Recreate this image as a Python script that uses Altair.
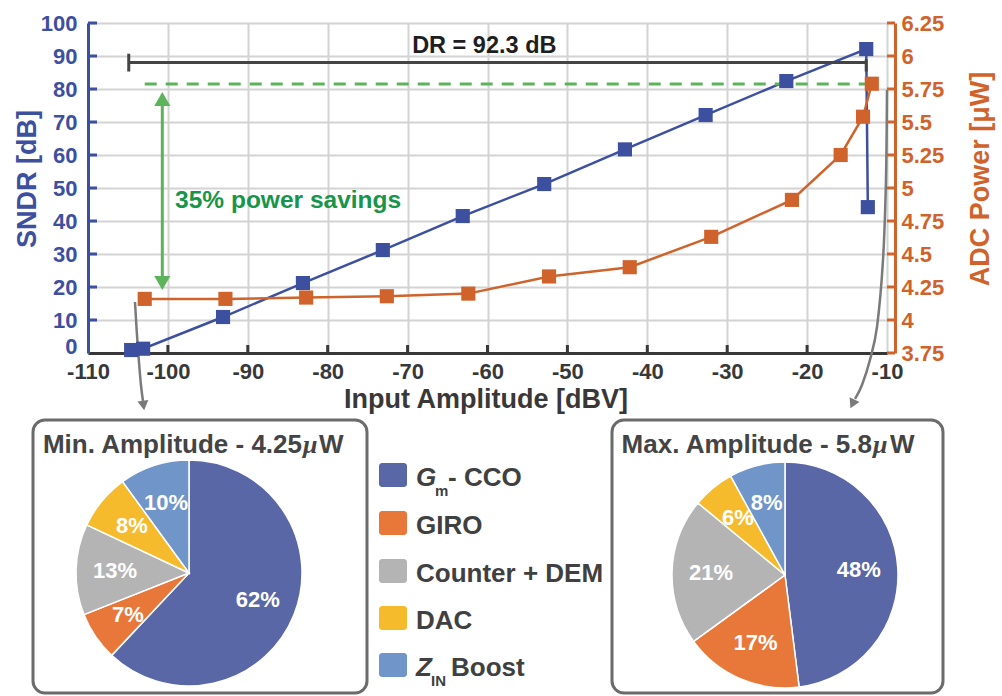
import altair as alt
import pandas as pd

# ---------------------------------------------------------------- data
# SNDR sweep (left axis) and ADC power sweep (right axis) vs. input amplitude
sndr_amp = [-104.6, -103.1, -93.1, -83.1, -73.1, -63.1, -52.9, -42.8, -32.7, -22.6, -12.6, -12.4]
sndr_db = [0.9, 1.3, 10.9, 21.2, 31.2, 41.5, 51.2, 61.7, 72.1, 82.4, 92.1, 44.2]
power_amp = [-102.9, -92.8, -82.7, -72.6, -62.4, -52.3, -42.2, -32.0, -21.9, -15.8, -13.0, -11.9]
power_uw = [4.16, 4.16, 4.17, 4.18, 4.20, 4.33, 4.40, 4.63, 4.91, 5.25, 5.54, 5.79]

# power breakdown per block at min / max input amplitude (percent)
blocks = ["Gm - CCO", "GIRO", "Counter + DEM", "DAC", "ZIN Boost"]
block_colors = ["#5a67a6", "#e8783a", "#b4b4b4", "#f6bb2c", "#7095c8"]
share_min = [62, 7, 13, 8, 10]
share_max = [48, 17, 21, 6, 8]

x_ticks = [-110, -100, -90, -80, -70, -60, -50, -40, -30, -20, -10]
sndr_ticks = [0, 10, 20, 30, 40, 50, 60, 70, 80, 90, 100]
power_ticks = [3.75, 4, 4.25, 4.5, 4.75, 5, 5.25, 5.5, 5.75, 6, 6.25]

# annotations
dr_value = 92.3
dr_start = -104.9
dr_level = 88.0
dr_label_at = [-60.4, 90.9]
savings_level = 81.5
savings_span = [-102.9, -12.1]
savings_arrow_amp = -100.7
savings_arrow_ends = [19.1, 79.1]
savings_label_at = [-99.1, 43.9]
left_leader_amp = [-104.12, -103.87, -103.62, -103.37, -103.12]
left_leader_db = [15.45, 5.45, -2.73, -9.70, -14.55]
right_leader_amp = [-10.0, -10.13, -10.5, -11.25, -12.13, -13.13, -14.0]
right_leader_db = [79.7, 52.4, 28.2, 7.9, -2.1, -9.7, -13.9]

# ---------------------------------------------------------------- style
FONT = "'Liberation Sans', Arial, sans-serif"
SERIF = "'Liberation Serif', serif"
BLUE = "#3d4f9f"
ORANGE = "#d0632c"
DARK = "#383838"
GREEN_LINE = "#5cb35a"
GREEN_TEXT = "#17954a"
GRID = "#d3d3d3"
LEADER = "#7a7a7a"
BOX = "#6b6b6b"

W, H = 799, 330  # plot area

x_scale = alt.Scale(domain=[-110, -10], nice=False, zero=False)
y_scale = alt.Scale(domain=[0, 100], nice=False, zero=False)
p_scale = alt.Scale(domain=[3.75, 6.25], nice=False, zero=False)
color_scale = alt.Scale(domain=blocks, range=block_colors)

x_axis = alt.Axis(
    values=x_ticks, labelExpr="datum.value + ''", ticks=False, grid=True,
    gridColor=GRID, gridWidth=2, domainColor=DARK, domainWidth=3,
    labelColor=DARK, labelFont=FONT, labelFontSize=22, labelFontWeight="bold",
    labelPadding=8, labelFlush=False, labelOverlap=False, title=None,
)
y_axis = alt.Axis(
    values=sndr_ticks, labelExpr="datum.value + ''", ticks=False, grid=True,
    gridColor=GRID, gridWidth=2, domainColor=BLUE, domainWidth=3,
    labelColor=BLUE, labelFont=FONT, labelFontSize=22, labelFontWeight="bold",
    labelPadding=11, labelOverlap=False, title=None,
    # the "0" sits on its baseline so it clears the x-axis labels below
    labelBaseline={"condition": {"test": "datum.value == 0", "value": "alphabetic"}, "value": "middle"},
)
p_axis = alt.Axis(
    orient="right", values=power_ticks, labelExpr="datum.value + ''", ticks=False, grid=False,
    offset=8, domainColor=ORANGE, domainWidth=3, labelColor=ORANGE, labelFont=FONT,
    labelFontSize=22, labelFontWeight="bold", labelPadding=6, labelOverlap=False, title=None,
)


# every layer carries the same axis definition so the shared axes merge cleanly
def X(field):
    return alt.X(f"{field}:Q", scale=x_scale, axis=x_axis)


def Y(field):
    return alt.Y(f"{field}:Q", scale=y_scale, axis=y_axis)


def P(field):
    return alt.Y(f"{field}:Q", scale=p_scale, axis=p_axis)


# ---------------------------------------------------------------- main plot
sndr_df = pd.DataFrame({"amp": sndr_amp, "sndr": sndr_db, "i": range(len(sndr_amp))})

sndr_line = alt.Chart(sndr_df).mark_line(color=BLUE, strokeWidth=2.5).encode(
    x=X("amp"), y=Y("sndr"), order="i:Q"
)
sndr_pts = alt.Chart(sndr_df).mark_square(color=BLUE, size=200, opacity=1).encode(
    x=X("amp"), y=Y("sndr")
)

# inward tick marks
xt = alt.Chart(pd.DataFrame({"v": x_ticks[1:-1]})).mark_rule(color=DARK, strokeWidth=3).encode(
    x=X("v"), y=alt.value(H), y2=alt.value(H - 8)
)
yt = alt.Chart(pd.DataFrame({"v": sndr_ticks[1:]})).mark_rule(color=BLUE, strokeWidth=3).encode(
    y=Y("v"), x=alt.value(0), x2=alt.value(9)
)

# dynamic-range bracket
dr_df = pd.DataFrame({"a": [dr_start], "b": [dr_start + dr_value], "y": [dr_level],
                      "t": [f"DR = {dr_value} dB"],
                      "tx": [dr_label_at[0]], "ty": [dr_label_at[1]]})
dr_rule = alt.Chart(dr_df).mark_rule(color="#444444", strokeWidth=3).encode(
    x=X("a"), x2="b:Q", y=Y("y")
)
caps_df = pd.DataFrame({"a": [dr_start, dr_start + dr_value],
                        "lo": [dr_level - 2.7, dr_level - 2.7],
                        "hi": [dr_level + 2.7, dr_level + 1.0]})
dr_caps = alt.Chart(caps_df).mark_rule(color="#444444", strokeWidth=3).encode(
    x=X("a"), y=Y("lo"), y2="hi:Q"
)
dr_text = alt.Chart(dr_df).mark_text(
    font=FONT, fontSize=23.5, fontWeight="bold", color="#1e1e1e",
    align="center", baseline="alphabetic",
).encode(x=X("tx"), y=Y("ty"), text="t:N")

# power-savings marker
sav_df = pd.DataFrame({"a": [savings_span[0]], "b": [savings_span[1]], "y": [savings_level]})
sav_rule = alt.Chart(sav_df).mark_rule(color=GREEN_LINE, strokeWidth=3, strokeDash=[12, 9]).encode(
    x=X("a"), x2="b:Q", y=Y("y")
)
arr_df = pd.DataFrame({"x": [savings_arrow_amp], "lo": [savings_arrow_ends[0] + 2],
                       "hi": [savings_arrow_ends[1] - 2]})
sav_shaft = alt.Chart(arr_df).mark_rule(color=GREEN_LINE, strokeWidth=3).encode(
    x=X("x"), y=Y("lo"), y2="hi:Q"
)
head_up = alt.Chart(pd.DataFrame({"x": [savings_arrow_amp], "y": [savings_arrow_ends[1] - 2.1]})).mark_point(
    shape="triangle-up", filled=True, size=260, color=GREEN_LINE, opacity=1
).encode(x=X("x"), y=Y("y"))
head_dn = alt.Chart(pd.DataFrame({"x": [savings_arrow_amp], "y": [savings_arrow_ends[0] + 2.1]})).mark_point(
    shape="triangle-down", filled=True, size=260, color=GREEN_LINE, opacity=1
).encode(x=X("x"), y=Y("y"))
sav_text = alt.Chart(pd.DataFrame({"x": [savings_label_at[0]], "y": [savings_label_at[1]],
                                   "t": ["35% power savings"]})).mark_text(
    font=FONT, fontSize=24.5, fontWeight="bold", color=GREEN_TEXT, align="left", baseline="alphabetic"
).encode(x=X("x"), y=Y("y"), text="t:N")


# leader arrows towards the pie charts
def leader(amps, dbs):
    df = pd.DataFrame({"x": amps, "y": dbs, "i": range(len(amps))})
    return alt.Chart(df).mark_line(color=LEADER, strokeWidth=2.5, interpolate="cardinal").encode(
        x=X("x"), y=Y("y"), order="i:Q"
    )


def leader_head(x, y, ang):
    return alt.Chart(pd.DataFrame({"x": [x], "y": [y]})).mark_point(
        shape="triangle-down", filled=True, size=120, color=LEADER, opacity=1, angle=ang
    ).encode(x=X("x"), y=Y("y"))


lead_l = leader(left_leader_amp, left_leader_db)
lead_r = leader(right_leader_amp, right_leader_db)
lead_l_head = leader_head(-103.05, -15.9, 352)
lead_r_head = leader_head(-14.32, -15.45, 26)


# free-standing text in plot-area pixels
def label(text, x, y, size, color, font=FONT, angle=0, align="center", style="normal"):
    return alt.Chart(pd.DataFrame({"t": [text]})).mark_text(
        font=font, fontSize=size, fontWeight="bold", fontStyle=style, color=color,
        align=align, baseline="alphabetic", angle=angle,
    ).encode(x=alt.value(x), y=alt.value(y), text="t:N")


x_title = label("Input Amplitude [dBV]", 398, 385, 27, DARK)
y_title = label("SNDR [dB]", -52, 156, 27, BLUE, angle=270)
p_title = label("ADC Power [μW]", 901, 156, 27, ORANGE, angle=270)


# ---------------------------------------------------------------- pies
def pie(shares, cx, cy):
    df = pd.DataFrame({"block": blocks, "share": shares, "k": range(len(blocks))})
    base = alt.Chart(df).transform_calculate(lab="datum.share + '%'")
    arcs = base.mark_arc(radius=113, stroke="white", strokeWidth=1.5).encode(
        theta=alt.Theta("share:Q", stack=True),
        color=alt.Color("block:N", scale=color_scale, legend=None),
        order=alt.Order("k:Q"),
        x=alt.value(cx), y=alt.value(cy),
    )
    texts = base.mark_text(
        radius=74, font=FONT, fontSize=22, fontWeight="bold", color="white",
        align="center", baseline="middle",
    ).encode(
        theta=alt.Theta("share:Q", stack=True),
        order=alt.Order("k:Q"),
        text="lab:N",
        x=alt.value(cx), y=alt.value(cy),
    )
    return arcs + texts


def box(x0, x1, y0, y1):
    return alt.Chart(pd.DataFrame({"b": [0]})).mark_rect(
        cornerRadius=12, fillOpacity=0, stroke=BOX, strokeWidth=3
    ).encode(x=alt.value(x0), x2=alt.value(x1), y=alt.value(y0), y2=alt.value(y1))


box_l = box(-55, 279, 397, 670)
box_r = box(524, 855, 397, 670)

TITLE_C = "#444444"
title_l = (label("Min. Amplitude - 4.25", 214, 430, 26, TITLE_C, align="right")
           + label("μ", 215, 430, 26, TITLE_C, font=SERIF, align="left", style="italic")
           + label("W", 231, 430, 26, TITLE_C, align="left"))
title_r = (label("Max. Amplitude - 5.8", 784, 430, 26, TITLE_C, align="right")
           + label("μ", 785, 430, 26, TITLE_C, font=SERIF, align="left", style="italic")
           + label("W", 802, 430, 26, TITLE_C, align="left"))

pie_l = pie(share_min, 101, 550)
pie_r = pie(share_max, 697, 552)

# ---------------------------------------------------------------- legend
LEG_C = "#404040"
legend_rows = [452, 500, 548, 595, 642]
legend_layers = []
for name, cy in zip(blocks, legend_rows):
    legend_layers.append(
        alt.Chart(pd.DataFrame({"block": [name]})).mark_rect(cornerRadius=3).encode(
            x=alt.value(291), x2=alt.value(319), y=alt.value(cy - 12), y2=alt.value(cy + 12),
            color=alt.Color("block:N", scale=color_scale, legend=None),
        )
    )
base_y = [cy + 11 for cy in legend_rows]
legend_layers += [
    label("G", 328, base_y[0], 26, LEG_C, align="left", style="italic"),
    label("m", 347, base_y[0] + 10, 15, LEG_C, align="left"),
    label("- CCO", 360, base_y[0], 26, LEG_C, align="left"),
    label(blocks[1], 328, base_y[1], 26, LEG_C, align="left"),
    label(blocks[2], 328, base_y[2], 26, LEG_C, align="left"),
    label(blocks[3], 328, base_y[3], 26, LEG_C, align="left"),
    label("Z", 328, base_y[4], 26, LEG_C, align="left", style="italic"),
    label("IN", 343, base_y[4] + 10, 15, LEG_C, align="left"),
    label("Boost", 363, base_y[4], 26, LEG_C, align="left"),
]

# ---------------------------------------------------------------- power series (right axis)
power_df = pd.DataFrame({"amp": power_amp, "pw": power_uw, "i": range(len(power_amp))})
power_line = alt.Chart(power_df).mark_line(color=ORANGE, strokeWidth=2.5).encode(
    x=X("amp"), y=P("pw"), order="i:Q"
)
power_pts = alt.Chart(power_df).mark_square(color=ORANGE, size=200, opacity=1).encode(
    x=X("amp"), y=P("pw")
)
pt = alt.Chart(pd.DataFrame({"v": power_ticks})).mark_rule(color=ORANGE, strokeWidth=3).encode(
    y=P("v"), x=alt.value(W), x2=alt.value(W + 8)
)
right = alt.layer(pt, power_line, power_pts)

left = alt.layer(
    sndr_line, xt, yt, dr_rule, dr_caps, dr_text, sav_rule, sav_shaft, head_up, head_dn, sav_text,
    lead_l, lead_r, lead_l_head, lead_r_head, x_title, y_title, p_title,
    box_l, box_r, title_l, title_r, pie_l, pie_r, *legend_layers,
    sndr_pts,
)

chart = alt.layer(left, right).resolve_scale(y="independent").properties(
    width=W, height=H,
    autosize=alt.AutoSizeParams(type="none"),
    padding={"left": 88, "top": 23, "right": 115, "bottom": 343},
    background="white",
).configure_view(stroke=None)

chart.save("out.html", embed_options={"renderer": "svg", "actions": False})
